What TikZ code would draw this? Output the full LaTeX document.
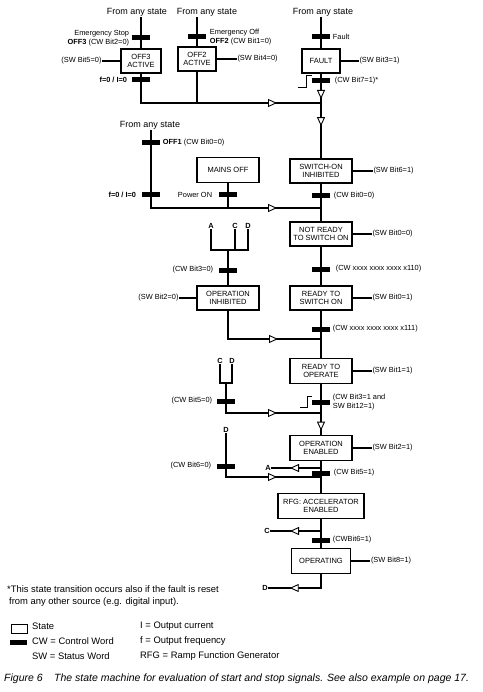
\documentclass[tikz,border=0pt]{standalone}
\usepackage{fontspec}
\setmainfont{Liberation Sans}
\usetikzlibrary{positioning,arrows.meta,decorations.markings}
\newcommand\boxfont{\fontsize{7.5}{8.5}\selectfont}
\newcommand\lblfont{\fontsize{7.4}{8.5}\selectfont}
\tikzset{
  statebox/.style={draw, line width=1.6pt, fill=white, align=center, font=\boxfont,
    minimum width=62pt, minimum height=24pt, inner sep=1pt},
  cwbar/.style={fill=black, minimum width=18pt, minimum height=5pt, inner sep=0pt},
  lbl/.style={font=\lblfont, inner sep=0.5pt},
  anytext/.style={font=\fontsize{9}{10}\selectfont, inner sep=1pt},
  conn/.style={line width=1.3pt},
  flowarrow/.style={postaction={decorate}, decoration={markings,
    mark=at position #1 with {\arrow{Triangle[length=9pt,width=8pt,fill=white,line width=0.9pt]}}}},
  trig/.style={line width=0.6pt},
  note/.style={font=\fontsize{9.4}{12}\selectfont, inner sep=0pt, align=left, anchor=west}
}
\begin{document}
\begin{tikzpicture}[x=1pt,y=-1pt]
\useasboundingbox (0,0) rectangle (482,692);
% from any state
\node[anytext] (any3) at (137,12) {From any state};
\node[anytext] (any2) at (207,12) {From any state};
\node[anytext] (anyF) at (323,12) {From any state};
\node[anytext] (any1) at (150,125) {From any state};
% states
\node[statebox, minimum width=40pt] (off3) at (141,61) {OFF3\\ACTIVE};
\node[statebox, minimum width=38pt] (off2) at (197,59) {OFF2\\ACTIVE};
\node[statebox, minimum width=38pt] (fault) at (321,61) {FAULT};
\node[statebox, minimum height=25pt] (mains) at (228,170) {MAINS OFF};
\node[statebox] (soinh) at (321,171) {SWITCH-ON\\INHIBITED};
\node[statebox] (nrdy) at (321,234) {NOT READY\\TO SWITCH ON};
\node[statebox] (opinh) at (228,298) {OPERATION\\INHIBITED};
\node[statebox] (rdy) at (321,298) {READY TO\\SWITCH ON};
\node[statebox, minimum height=25pt] (rdyop) at (321,371) {READY TO\\OPERATE};
\node[statebox, minimum height=25pt] (opena) at (321,448) {OPERATION\\ENABLED};
\node[statebox, minimum width=86pt, minimum height=25pt] (rfg) at (321,506) {RFG: ACCELERATOR\\ENABLED};
\node[statebox, minimum width=59pt, minimum height=25pt] (oper) at (321,561) {OPERATING};
% junctions
\coordinate (j1) at (321,103);
\coordinate (j2) at (321,208);
\coordinate (j3) at (321,339);
\coordinate (j4) at (321,413);
\coordinate (j5) at (321,468);
\coordinate (j6) at (321,477);
\coordinate (j7) at (321,531);
\coordinate (j8) at (321,588);
\coordinate (k1) at (228,250);
\coordinate (k2) at (226,383);
% status word labels
\node[lbl, left=18pt of off3] (sw5) {(SW Bit5=0)};
\node[lbl, right=20pt of off2] (sw4) {(SW Bit4=0)};
\node[lbl, right=18pt of fault] (sw3) {(SW Bit3=1)};
\node[lbl, right=20pt of soinh] (sw6) {(SW Bit6=1)};
\node[lbl, right=19pt of nrdy] (sw0a) {(SW Bit0=0)};
\node[lbl, left=17pt of opinh] (sw2a) {(SW Bit2=0)};
\node[lbl, right=19pt of rdy] (sw0b) {(SW Bit0=1)};
\node[lbl, right=19pt of rdyop] (sw1) {(SW Bit1=1)};
\node[lbl, right=19pt of opena] (sw2b) {(SW Bit2=1)};
\node[lbl, right=19pt of oper] (sw8) {(SW Bit8=1)};
% letters
\node[lbl, font=\lblfont\bfseries] (lA) at (211,226) {A};
\node[lbl, font=\lblfont\bfseries] (lC) at (235,226) {C};
\node[lbl, font=\lblfont\bfseries] (lD) at (248,226) {D};
\node[lbl, font=\lblfont\bfseries] (lC2) at (220,361) {C};
\node[lbl, font=\lblfont\bfseries] (lD2) at (232,361) {D};
\node[lbl, font=\lblfont\bfseries] (lD3) at (226,430) {D};
\node[lbl, font=\lblfont\bfseries] (lA2) at (268,468) {A};
\node[lbl, font=\lblfont\bfseries] (lC3) at (267,531) {C};
\node[lbl, font=\lblfont\bfseries] (lD4) at (265,588) {D};
% connectors
\draw[conn] (any3.south -| off3) -- (off3);
\draw[conn, flowarrow=-44pt] (off3) -- (off3 |- j1) -- (j1);
\draw[conn] (any2.south -| off2) -- (off2);
\draw[conn] (off2) -- (off2 |- j1);
\draw[conn] (anyF.south -| fault) -- (fault);
\draw[conn, flowarrow=-4pt] (fault) -- (j1);
\draw[conn, flowarrow=-32pt] (j1) -- (soinh);
\draw[conn, flowarrow=-44pt] (any1.south -| 151,0) -- (151,208) -- (j2);
\draw[conn] (mains) -- (mains |- j2);
\draw[conn] (soinh) -- (nrdy);
\draw[conn] (lA) -- (lA |- k1) -- (lD |- k1) -- (lD);
\draw[conn] (lC) -- (lC |- k1);
\draw[conn] (k1) -- (opinh);
\draw[conn, flowarrow=-43pt] (opinh) -- (opinh |- j3) -- (j3);
\draw[conn] (nrdy) -- (rdy);
\draw[conn] (rdy) -- (rdyop);
\draw[conn] (lC2) -- (lC2 |- k2) -- (lD2 |- k2) -- (lD2);
\draw[conn, flowarrow=-44pt] (k2) -- (k2 |- j4) -- (j4);
\draw[conn, flowarrow=-4pt] (rdyop) -- (opena);
\draw[conn, flowarrow=31pt] (j5) -- (lA2);
\draw[conn, flowarrow=-44pt] (lD3) -- (lD3 |- j6) -- (j6);
\draw[conn] (opena) -- (rfg);
\draw[conn, flowarrow=31pt] (j7) -- (lC3);
\draw[conn] (rfg) -- (oper);
\draw[conn, flowarrow=45pt] (oper) -- (j8) -- (lD4);
\foreach \s/\w in {off3/sw5, off2/sw4, fault/sw3, soinh/sw6, nrdy/sw0a, opinh/sw2a,
  rdy/sw0b, rdyop/sw1, opena/sw2b, oper/sw8}
  \draw[conn] (\s) -- (\w);
% control word bars
\node[cwbar] (b3a) at (141,38) {};
\node[lbl, left=2pt of b3a, align=right] {Emergency Stop\\\textbf{OFF3} (CW Bit2=0)};
\node[cwbar] (b3b) at (141,80) {};
\node[lbl, left=4pt of b3b] {\textbf{f=0 / I=0}};
\node[cwbar] (b2a) at (197,37) {};
\node[lbl, right=3pt of b2a, align=left] {Emergency Off\\\textbf{OFF2} (CW Bit1=0)};
\node[cwbar] (bfa) at (321,37) {};
\node[lbl, right=2pt of bfa] {Fault};
\node[cwbar] (bfb) at (321,81) {};
\node[lbl, right=4pt of bfb] {(CW Bit7=1)*};
\draw[trig] ([yshift=2.5pt]bfb.north west) -- ++(-6,0) -- ++(0,12) -- ++(-8,0);
\node[cwbar] (b1a) at (151,143) {};
\node[lbl, right=2pt of b1a] {\textbf{OFF1} (CW Bit0=0)};
\node[cwbar] (b1b) at (151,195) {};
\node[lbl, left=5pt of b1b] {\textbf{f=0 / I=0}};
\node[cwbar] (bpo) at (228,195) {};
\node[lbl, left=6pt of bpo] {Power ON};
\node[cwbar] (bso) at (321,196) {};
\node[lbl, right=3pt of bso] {(CW Bit0=0)};
\node[cwbar] (bci) at (228,270) {};
\node[lbl, left=5pt of bci] {(CW Bit3=0)};
\node[cwbar] (b110) at (321,269) {};
\node[lbl, right=5pt of b110] {(CW xxxx xxxx xxxx x110)};
\node[cwbar] (b111) at (321,329) {};
\node[lbl, right=2pt of b111] {(CW xxxx xxxx xxxx x111)};
\node[cwbar] (b3e) at (321,402) {};
\node[lbl, right=2pt of b3e, align=left] {(CW Bit3=1 and\\SW Bit12=1)};
\draw[trig] ([yshift=3.5pt]b3e.north west) -- ++(-5,0) -- ++(0,11) -- ++(-7,0);
\node[cwbar] (bc5) at (226,401) {};
\node[lbl, left=4pt of bc5] {(CW Bit5=0)};
\node[cwbar] (bc6) at (226,466) {};
\node[lbl, left=5pt of bc6] {(CW Bit6=0)};
\node[cwbar] (b5) at (321,473) {};
\node[lbl, right=3pt of b5] {(CW Bit5=1)};
\node[cwbar] (b6) at (321,540) {};
\node[lbl, right=2pt of b6] {(CWBit6=1)};
% footnote and legend
\node[note] (fnote) at (7,596) {*This state transition occurs also if the fault is reset\\\hspace{2pt}from any other source (e.g. digital input).};
\node[draw, line width=0.8pt, minimum width=16pt, minimum height=9pt, inner sep=0pt] (keyst) at (19,628.5) {};
\node[cwbar, minimum width=17pt] (keycw) at (18.5,642) {};
\node[note] at (32,626) {State};
\node[note] at (32,641) {CW = Control Word};
\node[note] at (32,656) {SW = Status Word};
\node[note] at (140,626) {I = Output current};
\node[note] at (140,641) {f = Output frequency};
\node[note] at (140,656) {RFG = Ramp Function Generator};
\node[note, font=\fontsize{10.5}{12}\selectfont\itshape] at (4,679) {Figure 6};
\node[note, font=\fontsize{10.5}{12}\selectfont\itshape] at (54,679) {The state machine for evaluation of start and stop signals. See also example on page 17.};
\end{tikzpicture}
\end{document}
